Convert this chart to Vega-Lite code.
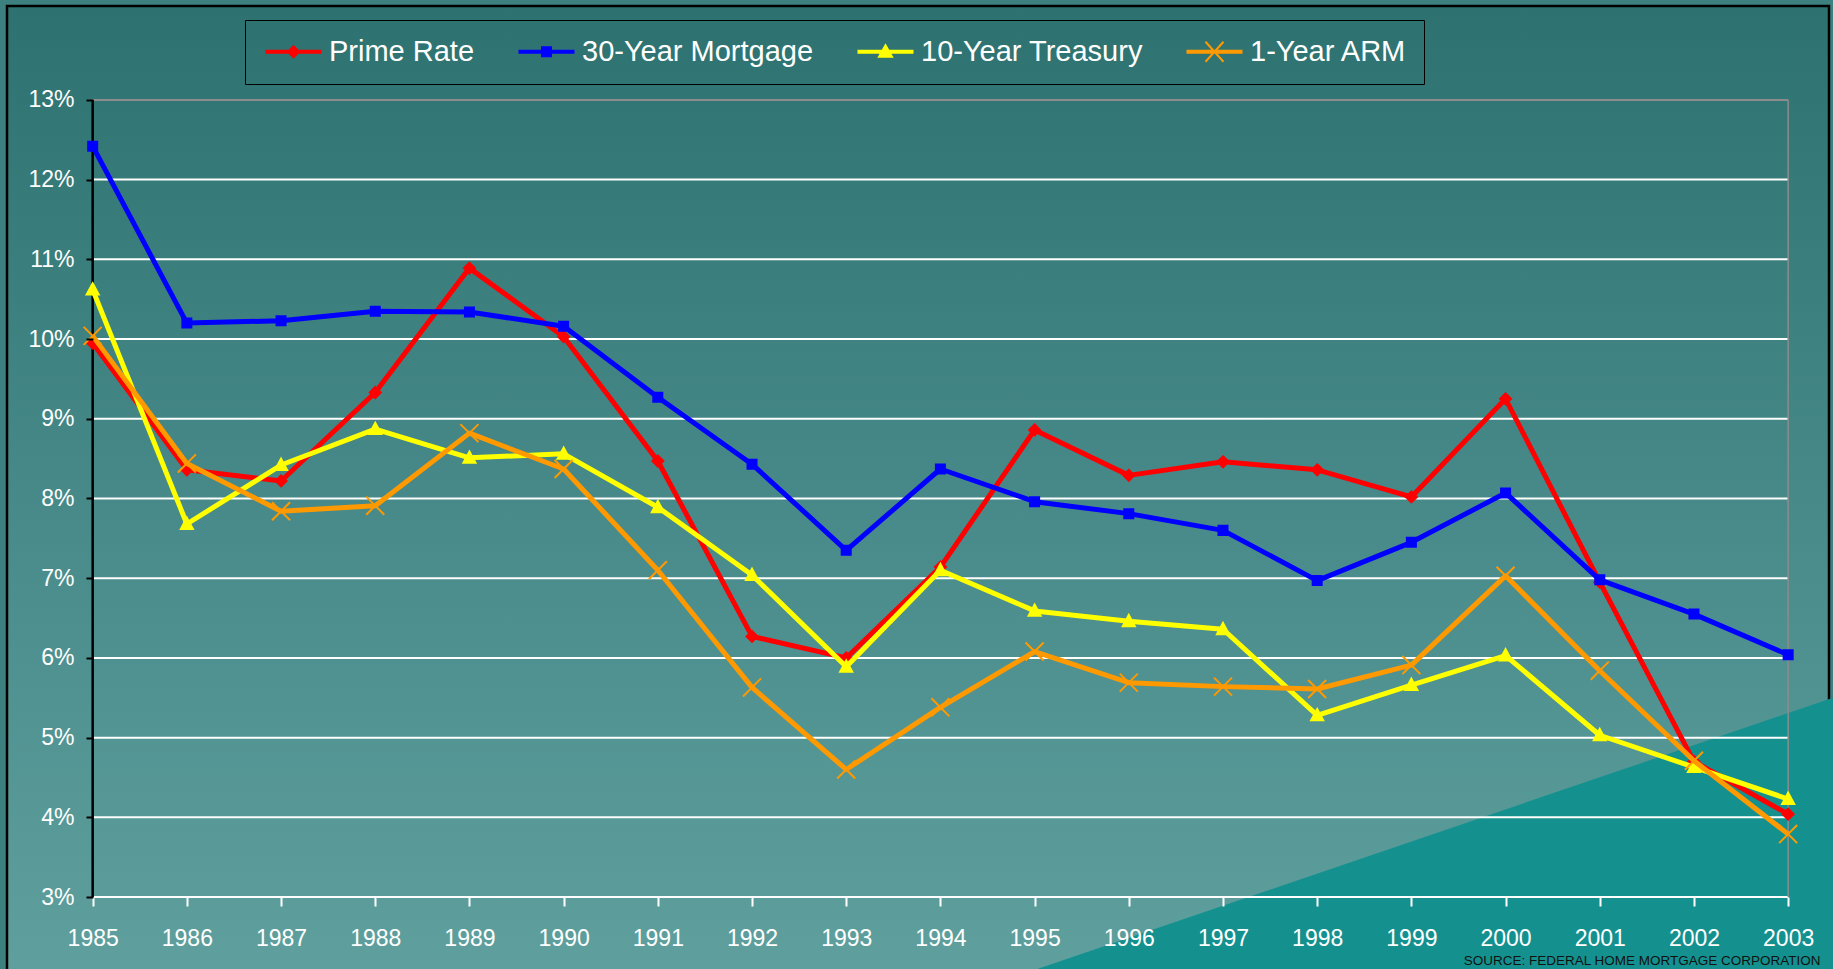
{
  "$schema": "https://vega.github.io/schema/vega-lite/v6.json",
  "width": 1833,
  "height": 969,
  "autosize": {"type": "fit", "contains": "padding"},
  "padding": {"left": 7, "top": 6, "right": -3, "bottom": -3},
  "background": "#3C817F",
  "view": {
    "fill": {"gradient": "linear", "x1": 0, "y1": 0, "x2": 0, "y2": 1,
      "stops": [{"offset": 0, "color": "#2D7270"}, {"offset": 0.5, "color": "#468988"}, {"offset": 1, "color": "#5FA09E"}]},
    "stroke": "#000000",
    "strokeWidth": 2.5
  },
  "config": {"font": "Liberation Sans"},
  "datasets": {
    "rates": [
      {"year": 1985, "series": "Prime Rate", "value": 9.95},
      {"year": 1986, "series": "Prime Rate", "value": 8.36},
      {"year": 1987, "series": "Prime Rate", "value": 8.22},
      {"year": 1988, "series": "Prime Rate", "value": 9.33},
      {"year": 1989, "series": "Prime Rate", "value": 10.89},
      {"year": 1990, "series": "Prime Rate", "value": 10.03},
      {"year": 1991, "series": "Prime Rate", "value": 8.47},
      {"year": 1992, "series": "Prime Rate", "value": 6.27},
      {"year": 1993, "series": "Prime Rate", "value": 6.0},
      {"year": 1994, "series": "Prime Rate", "value": 7.14},
      {"year": 1995, "series": "Prime Rate", "value": 8.86},
      {"year": 1996, "series": "Prime Rate", "value": 8.29},
      {"year": 1997, "series": "Prime Rate", "value": 8.46},
      {"year": 1998, "series": "Prime Rate", "value": 8.36},
      {"year": 1999, "series": "Prime Rate", "value": 8.02},
      {"year": 2000, "series": "Prime Rate", "value": 9.25},
      {"year": 2001, "series": "Prime Rate", "value": 6.95},
      {"year": 2002, "series": "Prime Rate", "value": 4.7},
      {"year": 2003, "series": "Prime Rate", "value": 4.04},
      {"year": 1985, "series": "30-Year Mortgage", "value": 12.42},
      {"year": 1986, "series": "30-Year Mortgage", "value": 10.2},
      {"year": 1987, "series": "30-Year Mortgage", "value": 10.23},
      {"year": 1988, "series": "30-Year Mortgage", "value": 10.35},
      {"year": 1989, "series": "30-Year Mortgage", "value": 10.34},
      {"year": 1990, "series": "30-Year Mortgage", "value": 10.16},
      {"year": 1991, "series": "30-Year Mortgage", "value": 9.27},
      {"year": 1992, "series": "30-Year Mortgage", "value": 8.43},
      {"year": 1993, "series": "30-Year Mortgage", "value": 7.35},
      {"year": 1994, "series": "30-Year Mortgage", "value": 8.37},
      {"year": 1995, "series": "30-Year Mortgage", "value": 7.96},
      {"year": 1996, "series": "30-Year Mortgage", "value": 7.81},
      {"year": 1997, "series": "30-Year Mortgage", "value": 7.6},
      {"year": 1998, "series": "30-Year Mortgage", "value": 6.97},
      {"year": 1999, "series": "30-Year Mortgage", "value": 7.45},
      {"year": 2000, "series": "30-Year Mortgage", "value": 8.07},
      {"year": 2001, "series": "30-Year Mortgage", "value": 6.98},
      {"year": 2002, "series": "30-Year Mortgage", "value": 6.55},
      {"year": 2003, "series": "30-Year Mortgage", "value": 6.04},
      {"year": 1985, "series": "10-Year Treasury", "value": 10.62},
      {"year": 1986, "series": "10-Year Treasury", "value": 7.68},
      {"year": 1987, "series": "10-Year Treasury", "value": 8.42},
      {"year": 1988, "series": "10-Year Treasury", "value": 8.87},
      {"year": 1989, "series": "10-Year Treasury", "value": 8.51},
      {"year": 1990, "series": "10-Year Treasury", "value": 8.56},
      {"year": 1991, "series": "10-Year Treasury", "value": 7.89},
      {"year": 1992, "series": "10-Year Treasury", "value": 7.04},
      {"year": 1993, "series": "10-Year Treasury", "value": 5.89},
      {"year": 1994, "series": "10-Year Treasury", "value": 7.1},
      {"year": 1995, "series": "10-Year Treasury", "value": 6.59},
      {"year": 1996, "series": "10-Year Treasury", "value": 6.46},
      {"year": 1997, "series": "10-Year Treasury", "value": 6.36},
      {"year": 1998, "series": "10-Year Treasury", "value": 5.28},
      {"year": 1999, "series": "10-Year Treasury", "value": 5.66},
      {"year": 2000, "series": "10-Year Treasury", "value": 6.03},
      {"year": 2001, "series": "10-Year Treasury", "value": 5.03},
      {"year": 2002, "series": "10-Year Treasury", "value": 4.63},
      {"year": 2003, "series": "10-Year Treasury", "value": 4.23},
      {"year": 1985, "series": "1-Year ARM", "value": 10.04},
      {"year": 1986, "series": "1-Year ARM", "value": 8.44},
      {"year": 1987, "series": "1-Year ARM", "value": 7.84},
      {"year": 1988, "series": "1-Year ARM", "value": 7.91},
      {"year": 1989, "series": "1-Year ARM", "value": 8.82},
      {"year": 1990, "series": "1-Year ARM", "value": 8.37},
      {"year": 1991, "series": "1-Year ARM", "value": 7.1},
      {"year": 1992, "series": "1-Year ARM", "value": 5.63},
      {"year": 1993, "series": "1-Year ARM", "value": 4.6},
      {"year": 1994, "series": "1-Year ARM", "value": 5.38},
      {"year": 1995, "series": "1-Year ARM", "value": 6.08},
      {"year": 1996, "series": "1-Year ARM", "value": 5.69},
      {"year": 1997, "series": "1-Year ARM", "value": 5.64},
      {"year": 1998, "series": "1-Year ARM", "value": 5.61},
      {"year": 1999, "series": "1-Year ARM", "value": 5.91},
      {"year": 2000, "series": "1-Year ARM", "value": 7.03},
      {"year": 2001, "series": "1-Year ARM", "value": 5.84},
      {"year": 2002, "series": "1-Year ARM", "value": 4.71},
      {"year": 2003, "series": "1-Year ARM", "value": 3.79}
    ],
    "decor": [
      {"year": 1994.96, "value": 2.07},
      {"year": 2003.5, "value": 5.51}
    ],
    "grid": [
      {"value": 3}, {"value": 4}, {"value": 5}, {"value": 6}, {"value": 7}, {"value": 8},
      {"value": 9}, {"value": 10}, {"value": 11}, {"value": 12}, {"value": 13}
    ]
  },
  "layer": [
    {
      "data": {"name": "rates"},
      "transform": [{"filter": "datum.year == 1985"}],
      "mark": {"type": "point", "filled": false, "size": 400, "strokeWidth": 2, "opacity": 0},
      "encoding": {
        "x": {"field": "year", "type": "quantitative"},
        "y": {"field": "value", "type": "quantitative"},
        "color": {
          "field": "series", "type": "nominal",
          "scale": {
            "domain": ["Prime Rate", "30-Year Mortgage", "10-Year Treasury", "1-Year ARM"],
            "range": ["#FF0000", "#0000FF", "#FFFF00", "#FF9900"]
          },
          "legend": {
            "orient": "none", "legendX": 238, "legendY": 14,
            "direction": "horizontal", "title": null,
            "strokeColor": "#000000", "padding": 17,
            "columnPadding": 39,
            "symbolSize": 400, "symbolOffset": 17, "symbolStrokeWidth": 2, "symbolOpacity": 1,
            "labelOffset": 21, "labelFontSize": 29, "labelColor": "#FFFFFF", "labelFont": "Liberation Sans",
            "labelLimit": 0, "zindex": 2
          }
        },
        "shape": {
          "field": "series", "type": "nominal",
          "scale": {
            "domain": ["Prime Rate", "30-Year Mortgage", "10-Year Treasury", "1-Year ARM"],
            "range": [
              "M-2.8,-0.1H2.8M-2.8,0.1H2.8M0,-0.55L0.55,0L0,0.55L-0.55,0ZM0,-0.35L0.35,0L0,0.35L-0.35,0ZM0,-0.15L0.15,0L0,0.15L-0.15,0Z",
              "M-2.8,-0.1H2.8M-2.8,0.1H2.8M-0.45,-0.45H0.45V0.45H-0.45ZM-0.25,-0.25H0.25V0.25H-0.25ZM-0.05,-0.05H0.05V0.05H-0.05Z",
              "M-2.8,-0.1H2.8M-2.8,0.1H2.8M0,-0.65L0.65,0.5H-0.65ZM0,-0.27L0.33,0.31H-0.33ZM0,0.04L0.07,0.16H-0.07Z",
              "M-2.8,-0.1H2.8M-2.8,0.1H2.8M-0.9,-1L0.9,1M0.9,-1L-0.9,1"
            ]
          }
        }
      }
    },
    {
      "data": {"name": "decor"},
      "mark": {"type": "area", "color": "#14918F", "opacity": 1},
      "encoding": {
        "x": {"field": "year", "type": "quantitative"},
        "y": {"field": "value", "type": "quantitative"},
        "y2": {"datum": 2.07}
      }
    },
    {
      "data": {"name": "grid"},
      "mark": {"type": "rule", "strokeWidth": 2},
      "encoding": {
        "y": {"field": "value", "type": "quantitative"},
        "x": {"datum": 1985, "type": "quantitative"},
        "x2": {"datum": 2003},
        "color": {"condition": {"test": "datum.value == 13", "value": "#8C8C8C"}, "value": "#FFFFFF"}
      }
    },
    {
      "data": {"values": [{}]},
      "mark": {"type": "rule", "strokeWidth": 1.5, "color": "#8C8C8C"},
      "encoding": {
        "x": {"datum": 2003, "type": "quantitative"},
        "y": {"datum": 3, "type": "quantitative"},
        "y2": {"datum": 13}
      }
    },
    {
      "data": {"values": [{}]},
      "mark": {"type": "rule", "strokeWidth": 2.5, "color": "#000000"},
      "encoding": {
        "x": {"datum": 1985, "type": "quantitative"},
        "y": {"datum": 3, "type": "quantitative"},
        "y2": {"datum": 13}
      }
    },
    {
      "data": {"name": "rates"},
      "transform": [{"filter": "datum.series === 'Prime Rate'"}],
      "mark": {"type": "line", "strokeWidth": 5, "strokeJoin": "round", "color": "#FF0000"},
      "encoding": {
        "x": {
          "field": "year", "type": "quantitative",
          "scale": {"domain": [1984.0905, 2003.4336], "nice": false, "zero": false},
          "axis": {
            "orient": "bottom", "offset": -74, "zindex": 1,
            "values": [1985, 1986, 1987, 1988, 1989, 1990, 1991, 1992, 1993, 1994, 1995, 1996, 1997, 1998, 1999, 2000, 2001, 2002, 2003],
            "format": "d", "domain": false, "grid": false,
            "tickColor": "#FFFFFF", "tickSize": 9, "tickWidth": 2,
            "labelColor": "#FFFFFF", "labelFontSize": 23, "labelFont": "Liberation Sans", "labelPadding": 21,
            "labelFlush": false, "labelOverlap": false,
            "title": "SOURCE: FEDERAL HOME MORTGAGE CORPORATION",
            "titleColor": "#111111", "titleFont": "Liberation Sans", "titleFontSize": 13.5, "titleFontWeight": "normal",
            "titleAnchor": "end", "titleAlign": "right", "titleBaseline": "bottom",
            "titleX": 1813, "titleY": 70
          }
        },
        "y": {
          "field": "value", "type": "quantitative",
          "scale": {"domain": [2.0727, 14.178], "nice": false, "zero": false},
          "axis": {
            "orient": "left", "offset": -86, "zindex": 1,
            "values": [3, 4, 5, 6, 7, 8, 9, 10, 11, 12, 13],
            "labelExpr": "datum.value + '%'",
            "domain": false, "grid": false,
            "tickColor": "#000000", "tickSize": 7, "tickWidth": 2,
            "labelColor": "#FFFFFF", "labelFontSize": 23, "labelFont": "Liberation Sans", "labelPadding": 12,
            "labelOverlap": false, "title": null
          }
        },
        "order": {"field": "year"}
      }
    },
    {
      "data": {"name": "rates"},
      "transform": [{"filter": "datum.series === 'Prime Rate'"}],
      "mark": {"type": "point", "filled": true, "size": 121, "strokeWidth": 2, "opacity": 1,
        "shape": "M0,-1L1,0L0,1L-1,0Z", "color": "#FF0000", "stroke": "#FF0000"},
      "encoding": {
        "x": {"field": "year", "type": "quantitative"},
        "y": {"field": "value", "type": "quantitative"}
      }
    },
    {
      "data": {"name": "rates"},
      "transform": [{"filter": "datum.series === '30-Year Mortgage'"}],
      "mark": {"type": "line", "strokeWidth": 5, "strokeJoin": "round", "color": "#0000FF"},
      "encoding": {
        "x": {"field": "year", "type": "quantitative"},
        "y": {"field": "value", "type": "quantitative"},
        "order": {"field": "year"}
      }
    },
    {
      "data": {"name": "rates"},
      "transform": [{"filter": "datum.series === '30-Year Mortgage'"}],
      "mark": {"type": "point", "filled": true, "size": 121, "strokeWidth": 2, "opacity": 1,
        "shape": "M-0.82,-0.82H0.82V0.82H-0.82Z", "color": "#0000FF", "stroke": "#0000FF"},
      "encoding": {
        "x": {"field": "year", "type": "quantitative"},
        "y": {"field": "value", "type": "quantitative"}
      }
    },
    {
      "data": {"name": "rates"},
      "transform": [{"filter": "datum.series === '10-Year Treasury'"}],
      "mark": {"type": "line", "strokeWidth": 5, "strokeJoin": "round", "color": "#FFFF00"},
      "encoding": {
        "x": {"field": "year", "type": "quantitative"},
        "y": {"field": "value", "type": "quantitative"},
        "order": {"field": "year"}
      }
    },
    {
      "data": {"name": "rates"},
      "transform": [{"filter": "datum.series === '10-Year Treasury'"}],
      "mark": {"type": "point", "filled": true, "size": 121, "strokeWidth": 2, "opacity": 1,
        "shape": "M0,-1.15L1.1,0.9H-1.1Z", "color": "#FFFF00", "stroke": "#FFFF00"},
      "encoding": {
        "x": {"field": "year", "type": "quantitative"},
        "y": {"field": "value", "type": "quantitative"}
      }
    },
    {
      "data": {"name": "rates"},
      "transform": [{"filter": "datum.series === '1-Year ARM'"}],
      "mark": {"type": "line", "strokeWidth": 5, "strokeJoin": "round", "color": "#FF9900"},
      "encoding": {
        "x": {"field": "year", "type": "quantitative"},
        "y": {"field": "value", "type": "quantitative"},
        "order": {"field": "year"}
      }
    },
    {
      "data": {"name": "rates"},
      "transform": [{"filter": "datum.series === '1-Year ARM'"}],
      "mark": {"type": "point", "filled": false, "size": 121, "strokeWidth": 2, "opacity": 1,
        "shape": "M-1.64,-1.64L1.64,1.64M1.64,-1.64L-1.64,1.64", "color": "#FF9900"},
      "encoding": {
        "x": {"field": "year", "type": "quantitative"},
        "y": {"field": "value", "type": "quantitative"}
      }
    }
  ]
}
